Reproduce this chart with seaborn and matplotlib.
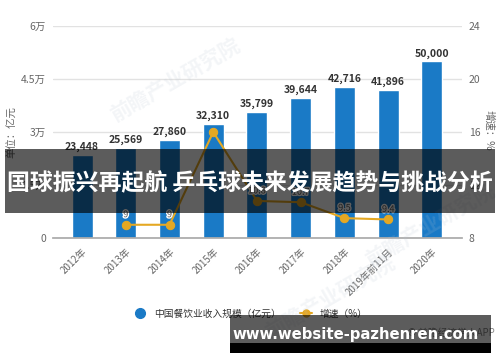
import matplotlib
matplotlib.use('Agg')
import matplotlib.pyplot as plt
import matplotlib.patheffects as pe
import pandas as pd
import seaborn as sns
from matplotlib.lines import Line2D
from matplotlib.patches import Rectangle

# data
years = ['2012年', '2013年', '2014年', '2015年', '2016年', '2017年', '2018年', '2019年前11月', '2020年']
revenue = [23448, 25569, 27860, 32310, 35799, 39644, 42716, 41896, 50000]
growth_years = ['2013年', '2014年', '2015年', '2016年', '2017年', '2018年', '2019年前11月']
growth = [9.0, 9.0, 16.0, 10.8, 10.7, 9.5, 9.4]
growth_labels = ['9', '9', '', '10.8', '10.7', '9.5', '9.4']
left_ticks = [0, 15000, 30000, 45000, 60000]
left_labels = ['0', '1.5万', '3万', '4.5万', '6万']
right_ticks = [8, 12, 16, 20, 24]

bar_color = '#1a7ac6'
line_color = '#e5a823'
tick_color = '#666666'

sns.set_theme(style='white')
plt.rcParams['font.family'] = ['Noto Sans CJK SC', 'DejaVu Sans']

fig = plt.figure(figsize=(5, 3.62), dpi=100)
ax = fig.add_axes([0.106, 0.3425, 0.818, 0.5855])

df = pd.DataFrame({'year': years, 'revenue': revenue})
sns.barplot(data=df, x='year', y='revenue', color=bar_color, saturation=1,
            width=0.48, ax=ax, zorder=2)
ax.bar_label(ax.containers[0], labels=[f'{v:,}' for v in revenue], padding=2,
             fontsize=7.5, fontweight='bold', color='#333333')

ax.set_ylim(0, 60000)
ax.set_yticks(left_ticks, left_labels)
ax.set_xticks(range(len(years)), years, rotation=45, ha='right', rotation_mode='anchor')
ax.set_xlim(-0.663, 8.686)
ax.set_xlabel('')
ax.set_ylabel('')
ax.yaxis.grid(True, color='#e2e2e2', lw=1)
ax.set_axisbelow(True)
for s in ['top', 'left', 'right']:
    ax.spines[s].set_visible(False)
ax.spines['bottom'].set_color('#aaaaaa')
ax.tick_params(axis='x', length=4, color='#aaaaaa', labelsize=7, labelcolor=tick_color, pad=2)
ax.tick_params(axis='y', length=0, labelsize=7.5, labelcolor=tick_color, pad=5)

# growth line on second axis
ax2 = ax.twinx()
pos = [years.index(y) for y in growth_years]
sns.lineplot(x=pos, y=growth, ax=ax2, color=line_color, lw=1.5, marker='o',
             markersize=6, markeredgecolor=line_color)
ax2.set_ylim(8, 24)
ax2.set_yticks(right_ticks)
ax2.set_xlim(-0.663, 8.686)
for s in ax2.spines.values():
    s.set_visible(False)
ax2.tick_params(axis='y', length=0, labelsize=7.5, labelcolor=tick_color, pad=5)
for x, y, lab in zip(pos, growth, growth_labels):
    ax2.annotate(lab, (x, y), xytext=(0, 4), textcoords='offset points', ha='center',
                 va='bottom', fontsize=6.5, color='#555555',
                 path_effects=[pe.withStroke(linewidth=2, foreground='white')])

fig.text(0.024, 0.635, '单位：亿元', rotation=90, ha='center', va='center', fontsize=7.5, color=tick_color)
fig.text(0.978, 0.64, '增速：%', rotation=-90, ha='center', va='center', fontsize=7.5, color=tick_color)

handles = [Line2D([], [], marker='o', ls='none', color=bar_color, markersize=7),
           Line2D([], [], marker='o', color=line_color, lw=1.5, markersize=5)]
fig.legend(handles=handles, labels=['中国餐饮业收入规模（亿元）', '增速（%）'], loc='center',
           bbox_to_anchor=(0.502, 0.133), ncol=2, frameon=False, fontsize=7,
           handlelength=1.2, columnspacing=2, labelcolor='#333333')

fig.text(0.99, 0.08, '© 前瞻经济学人APP', ha='right', va='center', fontsize=7, color='#888888')

# faint source watermarks
for wx, wy in [(0.35, 0.78), (0.66, 0.18), (0.86, 0.38)]:
    fig.text(wx, wy, '前瞻产业研究院', rotation=30, ha='center', va='center', fontsize=15,
             fontweight='bold', color='#b8c4d2', alpha=0.16, zorder=6)

# title banner over the chart
fig.add_artist(Rectangle((5 / 500, 1 - 213 / 362), 490 / 500, 64 / 362, transform=fig.transFigure,
                         color='black', alpha=0.64, lw=0, zorder=10))
fig.text(0.5, 1 - 184 / 362, '国球振兴再起航 乒乓球未来发展趋势与挑战分析', ha='center', va='center',
         fontsize=16.5, fontweight='bold', color='white', zorder=11)

# site watermark box
fig.add_artist(Rectangle((0.46, 1 - 343 / 362), 0.522, 28 / 362, transform=fig.transFigure,
                         color='black', alpha=0.64, lw=0, zorder=10))
fig.add_artist(Rectangle((0.46, 1 - 353 / 362), 0.522, 10 / 362, transform=fig.transFigure,
                         color='black', lw=0, zorder=10))
fig.text(0.711, 1 - 334 / 362, 'www.website-pazhenren.com', ha='center', va='center',
         fontsize=10.7, fontweight='bold', color='white', family='DejaVu Sans', zorder=11)

fig.savefig('out.png', dpi=100)
